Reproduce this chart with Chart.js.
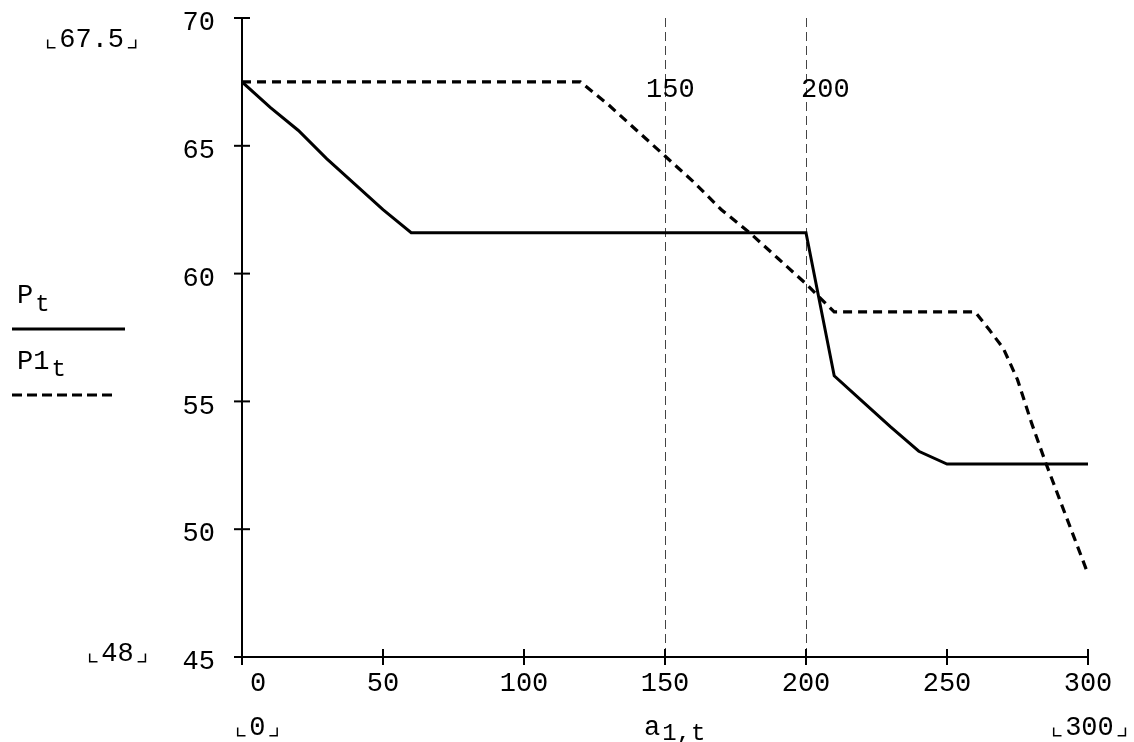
<!DOCTYPE html>
<html>
<head>
<meta charset="utf-8">
<script src="https://cdn.jsdelivr.net/npm/chart.js@4.4.0/dist/chart.umd.min.js"></script>
<style>
  body { margin: 0; background: #fff; }
  canvas { display: block; }
</style>
</head>
<body>
<canvas id="myChart" width="1134" height="742"></canvas>
<script>
// data
var tP = [0, 10, 20, 30, 40, 50, 60, 70, 80, 90, 100, 110, 120, 130, 140, 150,
  160, 170, 180, 190, 200, 210, 220, 230, 240, 250, 260, 270, 280, 290, 300];
var P = [67.5, 66.5, 65.6, 64.5, 63.5, 62.5, 61.6, 61.6, 61.6, 61.6, 61.6, 61.6, 61.6, 61.6, 61.6, 61.6,
  61.6, 61.6, 61.6, 61.6, 61.6, 56.0, 55.0, 54.0, 53.05, 52.55, 52.55, 52.55, 52.55, 52.55, 52.55];

var tP1 = [0, 10, 20, 30, 40, 50, 60, 70, 80, 90, 100, 110, 120, 130, 140, 150,
  160, 170, 180, 190, 200, 210, 220, 230, 240, 250, 260, 265, 270, 275, 280, 285, 290, 295, 300];
var P1 = [67.5, 67.5, 67.5, 67.5, 67.5, 67.5, 67.5, 67.5, 67.5, 67.5, 67.5, 67.5, 67.5, 66.6, 65.6, 64.6,
  63.6, 62.5, 61.6, 60.6, 59.6, 58.5, 58.5, 58.5, 58.5, 58.5, 58.5, 57.8, 57.07, 55.85, 54.15, 52.6, 51.15, 49.7, 48.25];

var markers = [150, 200];
var xRange = [0, 300];
var yRange = [45, 70];

var FONT = '"Liberation Mono", "Courier New", monospace';

function pts(xs, ys) {
  var out = [];
  for (var i = 0; i < xs.length; i++) out.push({x: xs[i], y: ys[i]});
  return out;
}

// text with a subscript, Mathcad style
function subText(ctx, base, sub, x, y, size, subSize, drop) {
  ctx.font = size + 'px ' + FONT;
  ctx.fillText(base, x, y);
  var w = ctx.measureText(base).width;
  ctx.font = subSize + 'px ' + FONT;
  ctx.fillText(sub, x + w + 2, y + drop);
}

const extras = {
  id: 'extras',
  beforeDatasetsDraw(chart) {
    var ctx = chart.ctx;
    var xs = chart.scales.x;
    var area = chart.chartArea;
    ctx.save();
    ctx.strokeStyle = '#444';
    ctx.lineWidth = 1;
    ctx.setLineDash([9, 5]);
    markers.forEach(function (m) {
      var px = Math.round(xs.getPixelForValue(m)) + 0.5;
      ctx.beginPath();
      ctx.moveTo(px, area.top);
      ctx.lineTo(px, area.bottom);
      ctx.stroke();
    });
    ctx.setLineDash([]);
    ctx.fillStyle = '#000';
    ctx.font = '27px ' + FONT;
    ctx.textBaseline = 'alphabetic';
    ctx.fillText(String(markers[0]), xs.getPixelForValue(markers[0]) - 19, 97);
    ctx.fillText(String(markers[1]), xs.getPixelForValue(markers[1]) - 5, 97);
    ctx.restore();
  },
  afterDraw(chart) {
    var ctx = chart.ctx;
    var xs = chart.scales.x, ys = chart.scales.y;
    var area = chart.chartArea;
    ctx.save();
    // ticks crossing the axes
    ctx.strokeStyle = '#000';
    ctx.lineWidth = 2;
    xs.ticks.forEach(function (t) {
      var px = xs.getPixelForValue(t.value);
      ctx.beginPath();
      ctx.moveTo(px, area.bottom - 8);
      ctx.lineTo(px, area.bottom + 8);
      ctx.stroke();
    });
    ys.ticks.forEach(function (t) {
      var py = ys.getPixelForValue(t.value);
      ctx.beginPath();
      ctx.moveTo(area.left - 8, py);
      ctx.lineTo(area.left + 8, py);
      ctx.stroke();
    });

    // limit labels
    ctx.fillStyle = '#000';
    ctx.textBaseline = 'alphabetic';
    ctx.font = '27px ' + FONT;
    ctx.fillText('\u231e67.5\u231f', 43, 47);
    ctx.fillText('\u231e48\u231f', 85, 661);
    ctx.fillText('\u231e0\u231f', 233, 735);
    ctx.textAlign = 'right';
    ctx.fillText('\u231e300\u231f', 1130, 735);
    ctx.textAlign = 'left';

    // axis title
    subText(ctx, 'a', '1,t', 644, 735, 27, 24, 5);

    // legend on the left
    subText(ctx, 'P', 't', 17, 303, 27, 24, 8);
    ctx.lineWidth = 3;
    ctx.beginPath();
    ctx.moveTo(12, 329);
    ctx.lineTo(125, 329);
    ctx.stroke();
    subText(ctx, 'P1', 't', 17, 369, 27, 24, 7);
    ctx.setLineDash([10, 5]);
    ctx.beginPath();
    ctx.moveTo(12, 395);
    ctx.lineTo(117, 395);
    ctx.stroke();
    ctx.restore();
  }
};

const config = {
  type: 'line',
  data: {
    datasets: [
      {
        label: 'P',
        data: pts(tP, P),
        borderColor: '#000',
        borderWidth: 3,
        pointRadius: 0,
        tension: 0,
        fill: false
      },
      {
        label: 'P1',
        data: pts(tP1, P1),
        borderColor: '#000',
        borderWidth: 3.2,
        borderDash: [9, 6],
        pointRadius: 0,
        tension: 0,
        fill: false
      }
    ]
  },
  options: {
    responsive: false,
    animation: false,
    devicePixelRatio: 1,
    layout: { padding: { left: 0, top: 18, right: 46, bottom: 0 } },
    plugins: {
      legend: { display: false },
      tooltip: { enabled: false }
    },
    scales: {
      x: {
        type: 'linear',
        min: xRange[0],
        max: xRange[1],
        grid: { display: false, drawTicks: false },
        border: { display: true, color: '#000', width: 2 },
        ticks: {
          stepSize: 50,
          color: '#000',
          padding: 11,
          maxRotation: 0,
          font: { family: FONT, size: 27 },
          callback: function (v) { return v === 0 ? '  0' : String(v); }
        },
        afterFit: function (s) { s.height = 85; }
      },
      y: {
        type: 'linear',
        min: yRange[0],
        max: yRange[1],
        // invisible ticks only push the labels away from the axis
        grid: { display: true, drawOnChartArea: false, drawTicks: true, tickLength: 27, color: 'rgba(0,0,0,0)' },
        border: { display: true, color: '#000', width: 2 },
        ticks: {
          stepSize: 5,
          color: '#000',
          padding: 0,
          labelOffset: 5,
          font: { family: FONT, size: 27 }
        },
        afterFit: function (s) { s.width = 242; }
      }
    }
  },
  plugins: [extras]
};

const myChart = new Chart(document.getElementById('myChart'), config);
</script>
</body>
</html>
